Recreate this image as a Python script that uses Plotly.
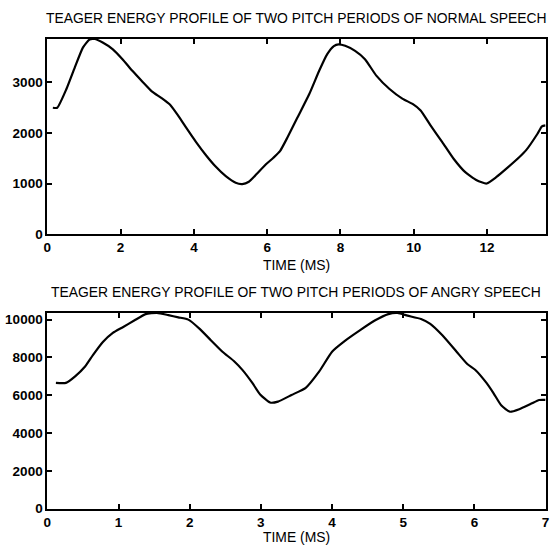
import plotly.graph_objects as go

# Normal speech (top)
normal_t = [0.15, 0.27, 0.52, 0.75, 0.97, 1.15, 1.29, 1.51, 1.78, 2.05, 2.32, 2.59, 2.85, 3.12, 3.35,
            3.57, 3.84, 4.06, 4.33, 4.60, 4.87, 5.14, 5.32, 5.50, 5.72, 5.99, 6.17, 6.35, 6.56, 6.83,
            7.15, 7.42, 7.64, 7.82, 7.95, 8.13, 8.40, 8.67, 8.98, 9.34, 9.70, 9.97, 10.19, 10.46,
            10.78, 11.09, 11.40, 11.72, 11.99, 12.26, 12.57, 12.88, 13.07, 13.38, 13.50, 13.60]
normal_e = [2500, 2500, 2870, 3300, 3690, 3850, 3860, 3790, 3660, 3460, 3230, 3020, 2825, 2690, 2560,
            2345, 2050, 1820, 1560, 1330, 1145, 1015, 990, 1035, 1195, 1395, 1510, 1640, 1920, 2310,
            2770, 3230, 3560, 3720, 3755, 3725, 3625, 3460, 3135, 2870, 2675, 2575, 2445, 2150,
            1820, 1490, 1230, 1065, 1000, 1130, 1320, 1520, 1660, 1985, 2130, 2150]

# Angry speech (bottom)
angry_t = [0.12, 0.26, 0.39, 0.53, 0.64, 0.78, 0.92, 1.06, 1.22, 1.38, 1.54, 1.70, 1.84, 1.98, 2.14,
           2.30, 2.46, 2.62, 2.74, 2.88, 2.99, 3.13, 3.24, 3.43, 3.63, 3.82, 4.00, 4.19, 4.39, 4.60,
           4.79, 4.92, 5.06, 5.25, 5.38, 5.55, 5.75, 5.90, 6.01, 6.17, 6.27, 6.38, 6.50, 6.63, 6.80,
           6.91, 7.00]
angry_e = [6650, 6650, 7000, 7520, 8125, 8820, 9300, 9600, 9950, 10290, 10360, 10240, 10120, 10000, 9510,
           8900, 8300, 7810, 7340, 6650, 6040, 5610, 5660, 6010, 6390, 7260, 8300, 8900, 9430, 9950,
           10290, 10350, 10210, 10035, 9775, 9170, 8300, 7650, 7350, 6650, 6100, 5450, 5125, 5260, 5555,
           5745, 5750]

top_title = "TEAGER ENERGY PROFILE OF TWO PITCH PERIODS OF NORMAL SPEECH"
bottom_title = "TEAGER ENERGY PROFILE OF TWO PITCH PERIODS OF ANGRY SPEECH"
x_label = "TIME (MS)"
top_xticks = [0, 2, 4, 6, 8, 10, 12]
top_yticks = [0, 1000, 2000, 3000]
bot_xticks = [0, 1, 2, 3, 4, 5, 6, 7]
bot_yticks = [0, 2000, 4000, 6000, 8000, 10000]

FONT = "Liberation Sans, Arial, sans-serif"
W, H = 554, 555

fig = go.Figure()
fig.add_trace(go.Scatter(x=normal_t, y=normal_e, mode="lines", xaxis="x", yaxis="y",
                         line=dict(color="black", width=2.2, shape="spline", smoothing=0.5),
                         showlegend=False))
fig.add_trace(go.Scatter(x=angry_t, y=angry_e, mode="lines", xaxis="x2", yaxis="y2",
                         line=dict(color="black", width=2.2, shape="spline", smoothing=0.5),
                         showlegend=False))

def px_y(p):
    return 1 - p / H

def px_x(p):
    return p / W

axis_common = dict(showline=True, linecolor="black", linewidth=2, mirror="allticks",
                   ticks="inside", ticklen=5, tickwidth=1.5, tickcolor="black",
                   showgrid=False, zeroline=False, tickformat="d",
                   tickfont=dict(family=FONT, size=13.5, color="black", weight="bold"))

xdom = [px_x(44), px_x(549.5)]
fig.update_layout(
    width=W, height=H, margin=dict(l=0, r=0, t=0, b=0),
    paper_bgcolor="white", plot_bgcolor="white",
    xaxis=dict(domain=xdom, range=[0, 13.6], tickvals=top_xticks, anchor="y", **axis_common),
    yaxis=dict(domain=[px_y(237.5), px_y(39.3)], range=[0, 3865], tickvals=top_yticks,
               anchor="x", **axis_common),
    xaxis2=dict(domain=xdom, range=[0, 7], tickvals=bot_xticks, anchor="y2", **axis_common),
    yaxis2=dict(domain=[px_y(516), px_y(317.3)], range=[0, 10365], tickvals=bot_yticks,
                anchor="x2", **axis_common),
)

tfont = dict(family=FONT, size=13.9, color="black")
for text, ypx in [(top_title, 18.5), (x_label, 269), (bottom_title, 296.5), (x_label, 545)]:
    fig.add_annotation(text=text, x=px_x(296.5), y=px_y(ypx), xref="paper", yref="paper",
                       xanchor="center", yanchor="middle", showarrow=False, font=tfont)

fig.write_html("out.html", config={"displayModeBar": False},
               post_script="document.body.style.margin='0';")
